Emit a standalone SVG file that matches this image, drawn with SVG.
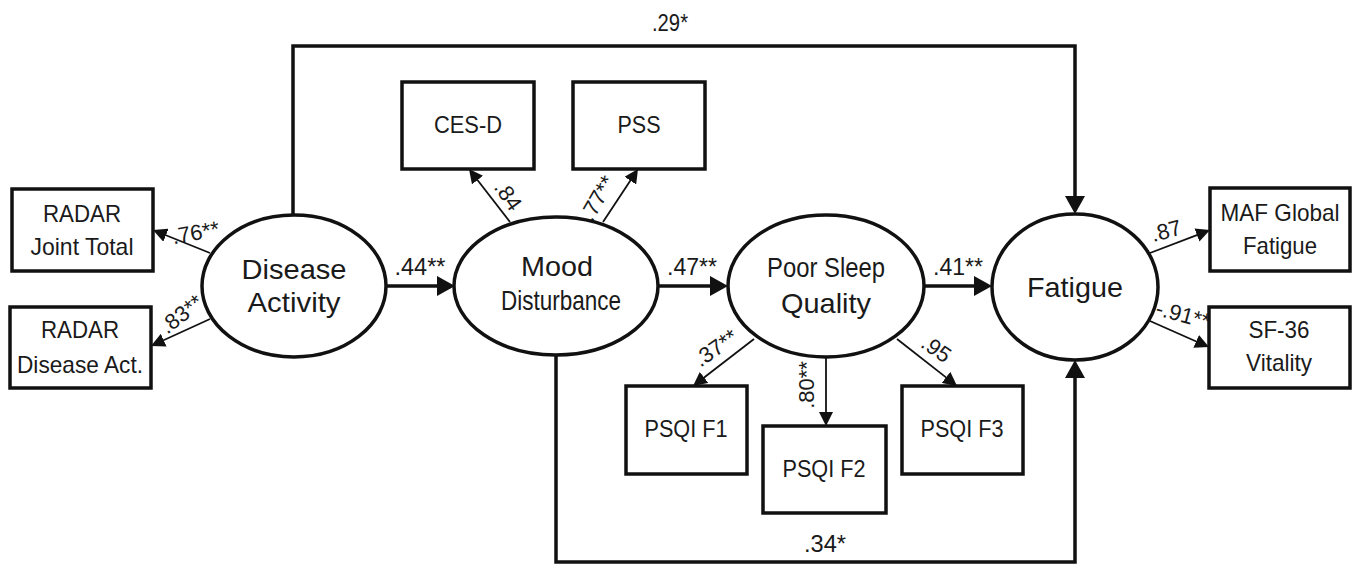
<svg xmlns="http://www.w3.org/2000/svg" width="1356" height="566" viewBox="0 0 1356 566">
<style>
text{font-family:"Liberation Sans",Arial,sans-serif;fill:#1a1a1a;text-anchor:middle}
.box{fill:#fff;stroke:#111;stroke-width:3.5}
.lat{fill:#fff;stroke:#111;stroke-width:3.5}
.pth{fill:none;stroke:#111;stroke-width:3.5}
.ld{fill:none;stroke:#111;stroke-width:1.8}
.bt{font-size:24px}
.lt{font-size:28px}
.pl{font-size:24px}
.ll{font-size:22px}
</style>
<defs>
<marker id="big" markerUnits="userSpaceOnUse" markerWidth="18" markerHeight="20" viewBox="0 0 18 20" refX="2" refY="10" orient="auto">
<path d="M0,0 L18,10 L0,20 z" fill="#111"/>
</marker>
<marker id="small" markerUnits="userSpaceOnUse" markerWidth="14" markerHeight="14" viewBox="0 0 14 14" refX="2" refY="7" orient="auto">
<path d="M0,0 L14,7 L0,14 z" fill="#111"/>
</marker>
</defs>
<rect width="1356" height="566" fill="#fff"/>
<g id="connectors">
<path class="pth" d="M293,216 V46 H1075 V198" marker-end="url(#big)"/>
<path class="pth" d="M386,286 H439" marker-end="url(#big)"/>
<path class="pth" d="M658,286 H712" marker-end="url(#big)"/>
<path class="pth" d="M924,286 H976" marker-end="url(#big)"/>
<path class="pth" d="M556,355 V562 H1075 V376" marker-end="url(#big)"/>
<line class="ld" x1="210" y1="253" x2="164.1" y2="234.5" marker-end="url(#small)"/>
<line class="ld" x1="210" y1="319" x2="161.9" y2="341" marker-end="url(#small)"/>
<line class="ld" x1="510" y1="222" x2="476.3" y2="178.5" marker-end="url(#small)"/>
<line class="ld" x1="603" y1="222" x2="631.4" y2="179" marker-end="url(#small)"/>
<line class="ld" x1="754" y1="339" x2="702.5" y2="378.7" marker-end="url(#small)"/>
<line class="ld" x1="826" y1="357" x2="826" y2="414" marker-end="url(#small)"/>
<line class="ld" x1="897" y1="339" x2="947.6" y2="378.6" marker-end="url(#small)"/>
<line class="ld" x1="1150" y1="253" x2="1198.8" y2="234.3" marker-end="url(#small)"/>
<line class="ld" x1="1150" y1="321" x2="1198" y2="342.2" marker-end="url(#small)"/>
<text class="pl" x="670" y="31" textLength="36" lengthAdjust="spacingAndGlyphs">.29*</text>
<text class="pl" x="420" y="275" textLength="51" lengthAdjust="spacingAndGlyphs">.44**</text>
<text class="pl" x="692" y="275" textLength="50" lengthAdjust="spacingAndGlyphs">.47**</text>
<text class="pl" x="958" y="275" textLength="50" lengthAdjust="spacingAndGlyphs">.41**</text>
<text class="pl" x="825" y="552" textLength="42" lengthAdjust="spacingAndGlyphs">.34*</text>
<text class="ll" transform="translate(197,240) rotate(-10)">.76**</text>
<text class="ll" transform="translate(186,320) rotate(-38)">.83**</text>
<text class="ll" transform="translate(502,200) rotate(55)">.84</text>
<text class="ll" transform="translate(604,202) rotate(-60)">.77**</text>
<text class="ll" transform="translate(720,354) rotate(-35)">.37**</text>
<text class="ll" transform="translate(814,385) rotate(-90)">.80**</text>
<text class="ll" transform="translate(932,355) rotate(35)">.95</text>
<text class="ll" transform="translate(1168,238) rotate(-15)">.87</text>
<text class="ll" transform="translate(1181,322) rotate(15)">-.91**</text>
</g>
<g id="radar-joint"><rect class="box" x="12" y="189" width="141" height="82"/><text class="bt" x="82" y="222" textLength="78" lengthAdjust="spacingAndGlyphs">RADAR</text><text class="bt" x="82" y="255" textLength="103" lengthAdjust="spacingAndGlyphs">Joint Total</text></g>
<g id="radar-disease"><rect class="box" x="10" y="307" width="141" height="81"/><text class="bt" x="80" y="338" textLength="78" lengthAdjust="spacingAndGlyphs">RADAR</text><text class="bt" x="80" y="373" textLength="126" lengthAdjust="spacingAndGlyphs">Disease Act.</text></g>
<g id="cesd"><rect class="box" x="402" y="82" width="132" height="87"/><text class="bt" x="468" y="133" textLength="68" lengthAdjust="spacingAndGlyphs">CES-D</text></g>
<g id="pss"><rect class="box" x="573" y="82" width="132" height="87"/><text class="bt" x="639" y="133" textLength="43" lengthAdjust="spacingAndGlyphs">PSS</text></g>
<g id="psqi-f1"><rect class="box" x="626" y="386" width="121" height="88"/><text class="bt" x="686" y="437" textLength="83" lengthAdjust="spacingAndGlyphs">PSQI F1</text></g>
<g id="psqi-f2"><rect class="box" x="763" y="426" width="123" height="87"/><text class="bt" x="824" y="477" textLength="83" lengthAdjust="spacingAndGlyphs">PSQI F2</text></g>
<g id="psqi-f3"><rect class="box" x="902" y="386" width="121" height="88"/><text class="bt" x="962" y="437" textLength="83" lengthAdjust="spacingAndGlyphs">PSQI F3</text></g>
<g id="maf"><rect class="box" x="1210" y="188" width="140" height="83"/><text class="bt" x="1280" y="221" textLength="119" lengthAdjust="spacingAndGlyphs">MAF Global</text><text class="bt" x="1280" y="254" textLength="74" lengthAdjust="spacingAndGlyphs">Fatigue</text></g>
<g id="sf36"><rect class="box" x="1209" y="307" width="141" height="81"/><text class="bt" x="1279" y="338" textLength="61" lengthAdjust="spacingAndGlyphs">SF-36</text><text class="bt" x="1279" y="371" textLength="66" lengthAdjust="spacingAndGlyphs">Vitality</text></g>
<g id="disease-activity"><ellipse class="lat" cx="294" cy="286" rx="92" ry="71"/><text class="lt" x="294" y="279" textLength="105" lengthAdjust="spacingAndGlyphs">Disease</text><text class="lt" x="294" y="312" textLength="93" lengthAdjust="spacingAndGlyphs">Activity</text></g>
<g id="mood"><ellipse class="lat" cx="556" cy="286" rx="102" ry="69"/><text class="lt" x="557" y="276" textLength="72" lengthAdjust="spacingAndGlyphs">Mood</text><text class="lt" x="561" y="310" textLength="120" lengthAdjust="spacingAndGlyphs">Disturbance</text></g>
<g id="sleep"><ellipse class="lat" cx="826" cy="286" rx="98" ry="71"/><text class="lt" x="826" y="277" textLength="118" lengthAdjust="spacingAndGlyphs">Poor Sleep</text><text class="lt" x="826" y="313" textLength="90" lengthAdjust="spacingAndGlyphs">Quality</text></g>
<g id="fatigue"><ellipse class="lat" cx="1075" cy="287" rx="83" ry="73"/><text class="lt" x="1075" y="297" textLength="96" lengthAdjust="spacingAndGlyphs">Fatigue</text></g>
</svg>
